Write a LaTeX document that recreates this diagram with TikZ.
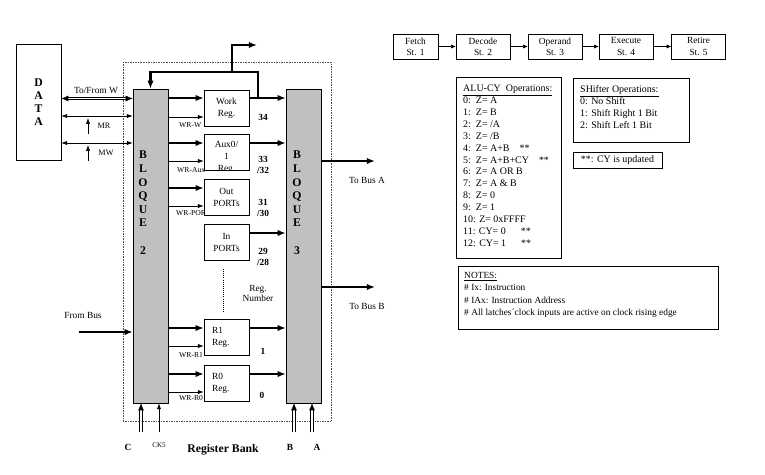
\documentclass[tikz,border=0pt]{standalone}
\usepackage{fontspec}
\setmainfont{Liberation Serif}
\usepackage{tikz}
\usetikzlibrary{arrows.meta,positioning,calc}
\definecolor{bloqueGray}{RGB}{192,192,192}

\tikzset{
  reg/.style={rectangle, draw, fill=white, minimum width=1.35cm, minimum height=1.08cm, inner sep=0pt, align=center, font=\fontsize{8}{10.2}\selectfont},
  bloque/.style={rectangle, draw, fill=bloqueGray, minimum width=1.05cm, minimum height=9.42cm, inner sep=0pt},
  bloquetxt/.style={anchor=north, inner sep=0pt, align=center, font=\bfseries\fontsize{10}{11.6}\selectfont},
  stage/.style={rectangle, draw, minimum width=1.62cm, minimum height=0.75cm, inner sep=0pt, align=center, font=\fontsize{8}{9.5}\selectfont},
  infobox/.style={rectangle, draw, line width=0.7pt},
  infotxt/.style={anchor=north west, inner sep=0pt, align=left, font=\fontsize{8.5}{10.2}\selectfont},
  lbl/.style={inner sep=0pt, font=\fontsize{8}{9}\selectfont},
  wrlbl/.style={anchor=west, inner sep=0pt, font=\fontsize{6.5}{7}\selectfont},
  num/.style={inner sep=0pt, align=center, font=\bfseries\fontsize{8}{9.4}\selectfont},
  bus/.style={line width=2pt, -{Latex[length=7pt,width=5.5pt]}},
  ctl/.style={line width=0.5pt, -{Latex[length=5pt,width=3.5pt]}},
  ctlboth/.style={line width=0.5pt, {Latex[length=5pt,width=3.5pt]}-{Latex[length=5pt,width=3.5pt]}},
  dbl/.style={double, double distance=1.6pt, line width=0.5pt, -{Latex[length=6pt,width=5pt]}},
  dblboth/.style={double, double distance=1.6pt, line width=0.5pt, {Latex[length=6pt,width=5pt]}-{Latex[length=6pt,width=5pt]}},
  pipe/.style={line width=0.5pt, -{Latex[length=4pt,width=3.5pt]}},
}

\begin{document}
\begin{tikzpicture}[x=0.03cm, y=-0.03cm]
\useasboundingbox (0,0) rectangle (765,474);

% register bank frame
\draw[densely dotted, black!70] (123,62) rectangle (331,421);

% data memory
\node[rectangle, draw, minimum width=1.35cm, minimum height=3.48cm, align=center, font=\bfseries\fontsize{10}{11}\selectfont] (data) at (38.5,102) {D\\A\\T\\A};

% bloques
\node[bloque] (b2) at (150.5,246) {};
\node[bloque] (b3) at (303.5,246) {};
\node[bloquetxt] (b2txt) at (143,151) {B\\L\\O\\Q\\U\\E\\~\\2};
\node[bloquetxt] (b3txt) at (297,151) {B\\L\\O\\Q\\U\\E\\~\\3};

% write enables (behind the registers)
\node[wrlbl] (wrw) at (179,125) {WR-W};
\node[wrlbl] (wraux) at (177,170) {WR-Aux};
\node[wrlbl] (wrpo) at (176,213) {WR-PORT};
\node[wrlbl] (wrr1) at (179,355) {WR-R1};
\node[wrlbl] (wrr0) at (179,398) {WR-R0};

% registers
\node[reg] (work) at (226.5,108) {Work\\Reg.};
\node[reg] (aux) at (226.5,152) {};
\begin{scope}
  \clip ($(aux.south west)+(0.5,-0.5)$) rectangle ($(aux.north east)+(-0.5,0.5)$);
  \node[anchor=north, inner sep=0pt, align=center, font=\fontsize{8}{10.2}\selectfont] (auxtxt) at ($(aux.north)+(0,7)$) {Aux0/\\1\\Reg.};
\end{scope}
\node[reg] (outp) at (226.5,197) {Out\\PORTs};
\node[reg] (inp) at (226.5,242) {In\\PORTs};
\node[reg, text width=0.87cm, align=left] (rone) at (226.5,337.5) {R1\\Reg.};
\node[reg, text width=0.87cm, align=left] (rzero) at (226.5,383) {R0\\Reg.};
\draw[densely dotted, line width=0.8pt] (223,269) -- (223,312);

% bloque 2 -> registers
\draw[bus] (b2.east |- 0,98) -- (work.west |- 0,98);
\draw[ctl] (b2.east |- 0,117) -- (work.west |- 0,117);
\draw[bus] (b2.east |- 0,143) -- (aux.west |- 0,143);
\draw[ctl] (b2.east |- 0,161) -- (aux.west |- 0,161);
\draw[bus] (b2.east |- 0,188) -- (outp.west |- 0,188);
\draw[ctl] (b2.east |- 0,206) -- (outp.west |- 0,206);
\draw[bus] (b2.east |- 0,328) -- (rone.west |- 0,328);
\draw[ctl] (b2.east |- 0,346) -- (rone.west |- 0,346);
\draw[bus] (b2.east |- 0,374) -- (rzero.west |- 0,374);
\draw[ctl] (b2.east |- 0,392) -- (rzero.west |- 0,392);

% registers -> bloque 3
\draw[bus] (work.east |- 0,98) -- (b3.west |- 0,98);
\draw[bus] (aux.east |- 0,143) -- (b3.west |- 0,143);
\draw[bus] (inp.east |- 0,233) -- (b3.west |- 0,233);
\draw[bus] (rone.east |- 0,328) -- (b3.west |- 0,328);
\draw[bus] (rzero.east |- 0,374) -- (b3.west |- 0,374);

% work register feedback
\coordinate (wtap) at (258,98);
\coordinate (fbjoin) at (232,72);
\coordinate (wout) at (257,45);
\draw[bus] (wtap) |- (b2.north |- fbjoin) -- (b2.north);
\draw[bus] (fbjoin) |- (wout);

% register numbers
\node[num] (n34) at (263,117) {34};
\node[num] (n33) at (263,164.5) {33\\/32};
\node[num] (n31) at (263,207.5) {31\\/30};
\node[num] (n29) at (263,256.5) {29\\/28};
\node[lbl, align=center] (nreg) at (258,293.5) {Reg.\\Number};
\node[num] (n1) at (263,351) {1};
\node[num] (n0) at (262,395) {0};

% data <-> bloque 2
\draw[dblboth] (data.east |- 0,98.5) -- (b2.west |- 0,98.5);
\draw[ctlboth] (data.east |- 0,116) -- (b2.west |- 0,116);
\draw[ctlboth] (data.east |- 0,143) -- (b2.west |- 0,143);
\coordinate (mrsrc) at (88,134);
\coordinate (mwsrc) at (88,161);
\draw[ctl] (mrsrc) -- (mrsrc |- 0,118);
\draw[ctl] (mwsrc) -- (mwsrc |- 0,145);
\node[lbl] (towlbl) at (96,90) {To/From W};
\node[lbl, font=\fontsize{7}{8}\selectfont] (mrlbl) at (104,126) {MR};
\node[lbl, font=\fontsize{7}{8}\selectfont] (mwlbl) at (106,153) {MW};

% buses in and out
\coordinate (frombus) at (79,332);
\draw[bus] (frombus) -- (frombus -| b2.west);
\node[lbl] (frombuslbl) at (83,315) {From Bus};
\coordinate (busA) at (375,161);
\coordinate (busB) at (375,287);
\draw[bus] (b3.east |- busA) -- (busA);
\draw[bus] (b3.east |- busB) -- (busB);
\node[lbl] (busAlbl) at (367,180) {To Bus A};
\node[lbl] (busBlbl) at (367,306) {To Bus B};

% selects and clock
\coordinate (cin) at (141,432);
\coordinate (ckin) at (159,432);
\coordinate (bin) at (294,432);
\coordinate (ain) at (312,432);
\draw[dbl] (cin) -- (cin |- b2.south);
\draw[ctl] (ckin) -- (ckin |- b2.south);
\draw[dbl] (bin) -- (bin |- b3.south);
\draw[dbl] (ain) -- (ain |- b3.south);
\node[num] (clbl) at (128,447) {C};
\node[lbl, font=\fontsize{6}{7}\selectfont] (cklbl) at (159,445) {CK5};
\node[num] (blbl) at (290,447) {B};
\node[num] (albl) at (317,447) {A};
\node[num, font=\bfseries\fontsize{10}{12}\selectfont] (banklbl) at (223,450) {Register Bank};

% pipeline
\node[stage, minimum width=1.35cm] (fetch) at (415.5,46.5) {Fetch\\St. 1};
\node[stage] (decode) at (483,46.5) {Decode\\St. 2};
\node[stage] (operand) at (555,46.5) {Operand\\St. 3};
\node[stage] (execute) at (626,46.5) {Execute\\St. 4};
\node[stage] (retire) at (698.5,46.5) {Retire\\St. 5};
\draw[pipe] (fetch) -- (decode);
\draw[pipe] (decode) -- (operand);
\draw[pipe] (operand) -- (execute);
\draw[pipe] (execute) -- (retire);

% operation tables
\node[infobox, minimum width=3.15cm, minimum height=5.43cm] (alu) at (508.5,167.5) {};
\node[infotxt] (alutxt) at (463,84.5) {\underline{ALU-CY\ \ Operations:}\\
0:\ \ Z= A\\
1:\ \ Z= B\\
2:\ \ Z= /A\\
3:\ \ Z= /B\\
4:\ \ Z= A+B\quad **\\
5:\ \ Z= A+B+CY\quad **\\
6:\ \ Z= A OR B\\
7:\ \ Z= A \& B\\
8:\ \ Z= 0\\
9:\ \ Z= 1\\
10: Z= 0xFFFF\\
11: CY= 0\quad\ \ **\\
12: CY= 1\quad\ \ **};
\node[infobox, minimum width=3.48cm, minimum height=1.92cm] (shift) at (631,110) {};
\node[infotxt] (shifttxt) at (580,85) {\underline{SHifter Operations:}\\0: No Shift\\1: Shift Right 1 Bit\\2: Shift Left 1 Bit};
\node[infobox, minimum width=2.67cm, minimum height=0.48cm, inner sep=0pt, font=\fontsize{8.5}{10}\selectfont] (cynote) at (617.5,160) {**: CY is updated};
\node[infobox, minimum width=7.8cm, minimum height=1.89cm] (notes) at (588,297.5) {};
\node[infotxt, font=\fontsize{8}{10.5}\selectfont] (notestxt) at (464,272) {\underline{NOTES:}\\\# Ix: Instruction\\\# IAx: Instruction Address\\\# All latches´clock inputs are active on clock rising edge};
\end{tikzpicture}
\end{document}
